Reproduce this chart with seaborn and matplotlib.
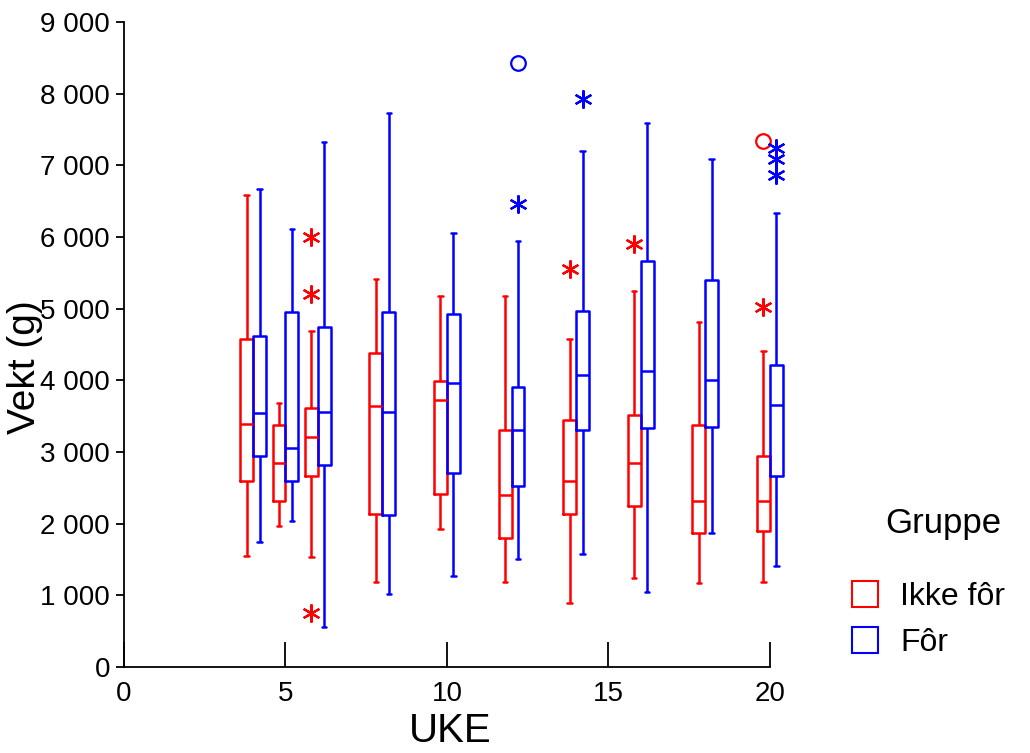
import numpy as np
import pandas as pd
import matplotlib
matplotlib.use('Agg')
import matplotlib.pyplot as plt
from matplotlib.lines import Line2D
from matplotlib.ticker import FuncFormatter, FixedLocator
import seaborn as sns

# Uker med målinger
uker = [4, 5, 6, 8, 10, 12, 14, 16, 18, 20]

# Ikke fôr: min, Q1, median, Q3, maks (whiskers uten uteliggere)
ikke_min = [1550, 1970, 1540, 1180, 1930, 1180, 890, 1240, 1170, 1180]
ikke_q1 = [2590, 2320, 2660, 2135, 2420, 1800, 2140, 2250, 1870, 1900]
ikke_med = [3385, 2845, 3205, 3640, 3720, 2400, 2600, 2840, 2320, 2320]
ikke_q3 = [4570, 3370, 3610, 4385, 3985, 3305, 3445, 3510, 3380, 2940]
ikke_max = [6580, 3690, 4690, 5420, 5170, 5175, 4580, 5245, 4810, 4410]

# Fôr
for_min = [1745, 2040, 560, 1015, 1270, 1505, 1580, 1050, 1870, 1415]
for_q1 = [2945, 2595, 2825, 2125, 2705, 2520, 3310, 3330, 3345, 2665]
for_med = [3545, 3050, 3560, 3565, 3960, 3305, 4075, 4130, 4005, 3655]
for_q3 = [4620, 4955, 4740, 4955, 4930, 3910, 4970, 5670, 5405, 4210]
for_max = [6675, 6105, 7320, 7730, 6050, 5945, 7195, 7595, 7090, 6335]

# Uteliggere (stjerne = ekstrem, sirkel = uteligger)
ikke_stjerne_uke = [6, 6, 6, 14, 16, 20]
ikke_stjerne = [6000, 5210, 760, 5550, 5900, 5030]
ikke_sirkel_uke = [20]
ikke_sirkel = [7340]
for_stjerne_uke = [12, 14, 20, 20, 20]
for_stjerne = [6455, 7920, 7240, 7090, 6860]
for_sirkel_uke = [12]
for_sirkel = [8425]

grupper = ["Ikke fôr", "Fôr"]
farger = {"Ikke fôr": "#ff0000", "Fôr": "#0000ff"}

# Lage langt datasett: fem tall per boks gir nøyaktig kvartilene
rader = []
for gruppe, serier in [("Ikke fôr", (ikke_min, ikke_q1, ikke_med, ikke_q3, ikke_max)),
                       ("Fôr", (for_min, for_q1, for_med, for_q3, for_max))]:
    for i, uke in enumerate(uker):
        for s in serier:
            rader.append({"UKE": uke, "Vekt": s[i], "Gruppe": gruppe})
df = pd.DataFrame(rader)

sns.set_style("ticks")
plt.rcParams["font.family"] = ["Liberation Sans", "DejaVu Sans"]
for k in ["text.color", "axes.labelcolor", "xtick.color", "ytick.color", "axes.edgecolor"]:
    plt.rcParams[k] = "black"

fig = plt.figure(figsize=(10.3, 7.53), dpi=100)
ax = fig.add_axes([124 / 1030, 1 - 667 / 753, 662 / 1030, 645 / 753])

sns.boxplot(data=df, x="UKE", y="Vekt", hue="Gruppe", hue_order=grupper,
            palette=farger, native_scale=True, fill=False, whis=np.inf,
            width=0.8, gap=0, linewidth=1.8, legend=False, ax=ax)

# Smale endestreker på whiskers
for cont in ax.containers:
    if hasattr(cont, "caps"):
        for cap in cont.caps:
            xd = np.asarray(cap.get_xdata(), dtype=float)
            m = xd.mean()
            cap.set_xdata([m - 0.07, m + 0.07])
for art in ax.patches + ax.lines:
    art.set_clip_on(False)

# Uteliggere
forskyvning = {"Ikke fôr": -0.2, "Fôr": 0.2}
stjerne = (6, 2, 0)
for gruppe, su, sv, cu, cv in [("Ikke fôr", ikke_stjerne_uke, ikke_stjerne, ikke_sirkel_uke, ikke_sirkel),
                               ("Fôr", for_stjerne_uke, for_stjerne, for_sirkel_uke, for_sirkel)]:
    d = forskyvning[gruppe]
    ax.plot(np.array(su) + d, sv, ls="none", marker=stjerne, ms=13, mew=1.6,
            color=farger[gruppe], clip_on=False)
    ax.plot(np.array(cu) + d, cv, ls="none", marker="o", ms=10.5, mew=1.6,
            mfc="none", mec=farger[gruppe], clip_on=False)

ax.set_xlim(0, 20.5)
ax.set_ylim(0, 9000)
ax.spines["bottom"].set_bounds(0, 20)
ax.spines["top"].set_visible(False)
ax.spines["right"].set_visible(False)
for s in ["left", "bottom"]:
    ax.spines[s].set_linewidth(1.3)
ax.xaxis.set_major_locator(FixedLocator([0, 5, 10, 15, 20]))
ax.yaxis.set_major_locator(FixedLocator(np.arange(0, 9001, 1000)))
ax.yaxis.set_major_formatter(FuncFormatter(lambda v, p: f"{int(v):,}".replace(",", " ")))
ax.tick_params(axis="x", direction="in", length=18, width=1.3, pad=10, labelsize=20)
ax.tick_params(axis="y", direction="out", length=6, width=1.3, pad=4, labelsize=20)

ax.set_xlabel("UKE", fontsize=29, va="top")
ax.set_ylabel("Vekt (g)", fontsize=28)
ax.xaxis.set_label_coords(0.4925, -0.07)
ax.yaxis.set_label_coords(-0.122, 0.465)

# Forklaring
fig.text(943 / 1030, 1 - 523 / 753, "Gruppe", ha="center", va="center", fontsize=25)
handles = [Line2D([], [], ls="none", marker="s", ms=19, mfc="white", mec=farger[g], mew=1.5)
           for g in grupper]
fig.legend(handles, grupper, loc="upper left", bbox_to_anchor=(849 / 1030, 1 - 582 / 753),
           frameon=False, fontsize=23, handlelength=1.0, handletextpad=0.6,
           labelspacing=0.5, borderpad=0, borderaxespad=0)

fig.savefig("out.png", dpi=100)
